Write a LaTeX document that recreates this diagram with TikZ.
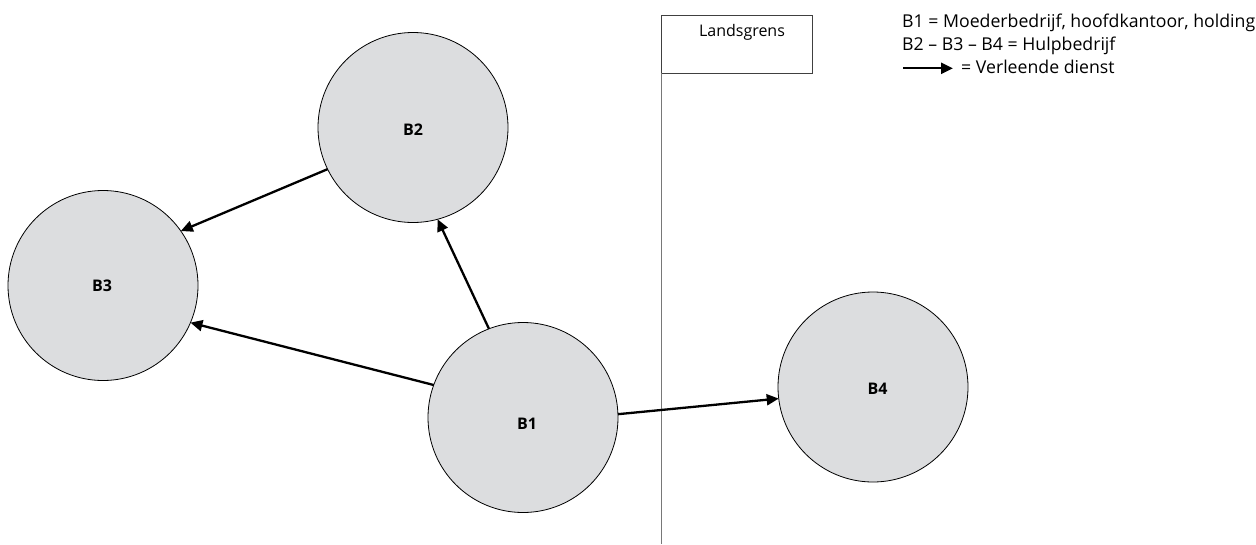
\documentclass[tikz,border=0pt]{standalone}
\usepackage{fontspec}
\setmainfont{Open Sans}
\usetikzlibrary{arrows.meta}
\definecolor{bfill}{RGB}{220,221,223}
\definecolor{grensgray}{RGB}{120,120,120}
\tikzset{
  bedrijf/.style={circle, draw=black, line width=0.8pt, fill=bfill, minimum size=190pt, inner sep=0pt, outer sep=0pt},
  blabel/.style={inner sep=0pt, font=\fontsize{16}{19}\selectfont\bfseries},
  dienst/.style={line width=2.3pt, -{Triangle[length=12pt,width=11pt]}},
  legtext/.style={anchor=base west, inner sep=0pt, font=\fontsize{17.7}{21}\selectfont},
}
\begin{document}
\begin{tikzpicture}[x=1pt,y=-1pt]
\useasboundingbox (0,0) rectangle (1256,544);
% companies
\node[bedrijf] (b2) at (413,127.5) {};
\node[bedrijf] (b3) at (103,285.5) {};
\node[bedrijf] (b1) at (523,417.5) {};
\node[bedrijf] (b4) at (873,387) {};
\node[blabel] (b2t) at (413,129.5) {B2};
\node[blabel] (b3t) at (102,286) {B3};
\node[blabel] (b1t) at (527,424) {B1};
\node[blabel] (b4t) at (877.5,389) {B4};
% border
\node[draw=black!75, line width=0.9pt, rectangle, minimum width=151pt, minimum height=58.3pt, inner sep=0pt, outer sep=0pt, anchor=north west] (grens) at (661.7,15) {};
\node[anchor=base, inner sep=0pt, font=\fontsize{16}{19}\selectfont] (grenstext) at (742,36) {Landsgrens};
\coordinate (grensend) at (661.7,544);
\draw[grensgray, line width=1.3pt] (grens.south west) -- (grensend);
% services
\draw[dienst] (b2.206.6) -- (b3.35.6);
\draw[dienst] (b1.160.5) -- (b3.337.5);
\draw[dienst] (b1.111) -- (b2.285);
\draw[dienst] (b1.2.7) -- (b4.187.1);
% legend
\node[legtext] (leg1) at (902,27.3) {B1 = Moederbedrijf, hoofdkantoor, holding};
\node[legtext] (leg2) at (902,50.7) {B2 -- B3 -- B4 = Hulpbedrijf};
\coordinate (legA) at (903,68.3);
\coordinate (legB) at (953,68.3);
\draw[dienst] (legA) -- (legB);
\node[legtext] (leg3) at (961,73.8) {= Verleende dienst};
\end{tikzpicture}
\end{document}
